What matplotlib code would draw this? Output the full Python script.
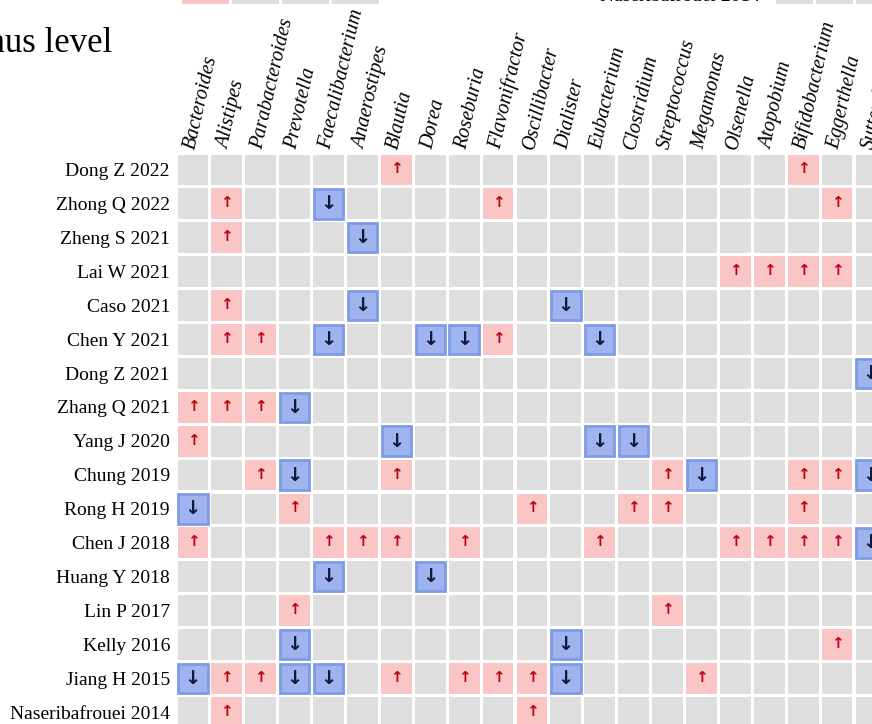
import matplotlib
matplotlib.use("Agg")
import matplotlib.pyplot as plt
from matplotlib.patches import Rectangle

plt.rcParams["font.family"] = ["Liberation Serif", "DejaVu Serif"]

genera = [
    "Bacteroides", "Alistipes", "Parabacteroides", "Prevotella", "Faecalibacterium",
    "Anaerostipes", "Blautia", "Dorea", "Roseburia", "Flavonifractor", "Oscillibacter",
    "Dialister", "Eubacterium", "Clostridium", "Streptococcus", "Megamonas",
    "Olsenella", "Atopobium", "Bifidobacterium", "Eggerthella", "Sutterella",
]
studies = [
    "Dong Z 2022", "Zhong Q 2022", "Zheng S 2021", "Lai W 2021", "Caso 2021",
    "Chen Y 2021", "Dong Z 2021", "Zhang Q 2021", "Yang J 2020", "Chung 2019",
    "Rong H 2019", "Chen J 2018", "Huang Y 2018", "Lin P 2017", "Kelly 2016",
    "Jiang H 2015", "Naseribafrouei 2014",
]

# genera reported increased / decreased per study
increased = {
    "Dong Z 2022": ["Blautia", "Bifidobacterium"],
    "Zhong Q 2022": ["Alistipes", "Flavonifractor", "Eggerthella"],
    "Zheng S 2021": ["Alistipes"],
    "Lai W 2021": ["Olsenella", "Atopobium", "Bifidobacterium", "Eggerthella"],
    "Caso 2021": ["Alistipes"],
    "Chen Y 2021": ["Alistipes", "Parabacteroides", "Flavonifractor"],
    "Dong Z 2021": [],
    "Zhang Q 2021": ["Bacteroides", "Alistipes", "Parabacteroides"],
    "Yang J 2020": ["Bacteroides"],
    "Chung 2019": ["Parabacteroides", "Blautia", "Streptococcus", "Bifidobacterium", "Eggerthella"],
    "Rong H 2019": ["Prevotella", "Oscillibacter", "Clostridium", "Streptococcus", "Bifidobacterium"],
    "Chen J 2018": ["Bacteroides", "Faecalibacterium", "Anaerostipes", "Blautia", "Roseburia",
                    "Eubacterium", "Olsenella", "Atopobium", "Bifidobacterium", "Eggerthella"],
    "Huang Y 2018": [],
    "Lin P 2017": ["Prevotella", "Streptococcus"],
    "Kelly 2016": ["Eggerthella"],
    "Jiang H 2015": ["Alistipes", "Parabacteroides", "Blautia", "Roseburia", "Flavonifractor",
                     "Oscillibacter", "Megamonas"],
    "Naseribafrouei 2014": ["Alistipes", "Oscillibacter"],
}
decreased = {
    "Dong Z 2022": [],
    "Zhong Q 2022": ["Faecalibacterium"],
    "Zheng S 2021": ["Anaerostipes"],
    "Lai W 2021": [],
    "Caso 2021": ["Anaerostipes", "Dialister"],
    "Chen Y 2021": ["Faecalibacterium", "Dorea", "Roseburia", "Eubacterium"],
    "Dong Z 2021": ["Sutterella"],
    "Zhang Q 2021": ["Prevotella"],
    "Yang J 2020": ["Blautia", "Eubacterium", "Clostridium"],
    "Chung 2019": ["Prevotella", "Megamonas", "Sutterella"],
    "Rong H 2019": ["Bacteroides"],
    "Chen J 2018": ["Sutterella"],
    "Huang Y 2018": ["Faecalibacterium", "Dorea"],
    "Lin P 2017": [],
    "Kelly 2016": ["Prevotella", "Dialister"],
    "Jiang H 2015": ["Bacteroides", "Prevotella", "Faecalibacterium", "Dialister"],
    "Naseribafrouei 2014": [],
}

# fragments of the panel above (cut at the top edge)
top_left_cells = ["up", "none", "none", "none"]
top_right_cells = ["none", "none", "none"]
top_right_label = "Naseribafrouei 2014"

GRAY = "#dedede"
PINK = "#f9c5c5"
BLUE = "#9fb4ee"
BLUE_EDGE = "#7e9be6"
RED_ARROW = "#c0000e"
BLUE_ARROW = "#0c1a3c"

W, H = 872, 724
PITCH = 33.9
fig = plt.figure(figsize=(W / 100, H / 100), dpi=100)

left_px, top_px = 176, 153
ax = fig.add_axes([left_px / W, 0, (W - left_px) / W, (H - top_px) / H])
ax.set_xlim(0, (W - left_px) / PITCH)
ax.set_ylim((H - top_px) / PITCH, 0)
ax.axis("off")

g = 0.045
for r, study in enumerate(studies):
    for c, genus in enumerate(genera):
        if genus in increased[study]:
            ax.add_patch(Rectangle((c + g, r + g), 1 - 2 * g, 1 - 2 * g, facecolor=PINK, edgecolor="none"))
            ax.text(c + 0.5, r + 0.47, "↑", ha="center", va="center", fontsize=11,
                    fontweight="bold", color=RED_ARROW, family="DejaVu Sans")
        elif genus in decreased[study]:
            ax.add_patch(Rectangle((c + g + 0.02, r + g + 0.02), 1 - 2 * g - 0.04, 1 - 2 * g - 0.04,
                                   facecolor=BLUE, edgecolor=BLUE_EDGE, linewidth=2))
            ax.text(c + 0.5, r + 0.5, "↓", ha="center", va="center", fontsize=14,
                    fontweight="bold", color=BLUE_ARROW, family="DejaVu Sans")
        else:
            ax.add_patch(Rectangle((c + g, r + g), 1 - 2 * g, 1 - 2 * g, facecolor=GRAY, edgecolor="none"))
    ax.text(-0.18, r + 0.55, study, ha="right", va="center", fontsize=14, clip_on=False)

for c, genus in enumerate(genera):
    ax.text(c + 0.42, -0.12, genus, rotation=77, rotation_mode="anchor", ha="left", va="center",
            fontsize=14.5, style="italic", clip_on=False)

fig.text(112 / W, 1 - 52 / H, "Genus level", ha="right", va="baseline", fontsize=25)

# top fragments
ax_tl = fig.add_axes([180 / W, 1 - 4 / H, 200 / W, 40 / H])
ax_tl.set_xlim(0, len(top_left_cells))
ax_tl.set_ylim(0, 1)
ax_tl.axis("off")
for i, state in enumerate(top_left_cells):
    ax_tl.add_patch(Rectangle((i + 0.03, 0), 0.94, 1, facecolor=PINK if state == "up" else GRAY,
                              edgecolor="none"))

ax_tr = fig.add_axes([775 / W, 1 - 4 / H, 120 / W, 40 / H])
ax_tr.set_xlim(0, len(top_right_cells))
ax_tr.set_ylim(0, 1)
ax_tr.axis("off")
for i, state in enumerate(top_right_cells):
    ax_tr.add_patch(Rectangle((i + 0.03, 0), 0.92, 1, facecolor=PINK if state == "up" else GRAY,
                              edgecolor="none"))
fig.text(760 / W, 1 - 1.0 / H, top_right_label, ha="right", va="baseline", fontsize=14)

fig.savefig("out.png", dpi=100)
